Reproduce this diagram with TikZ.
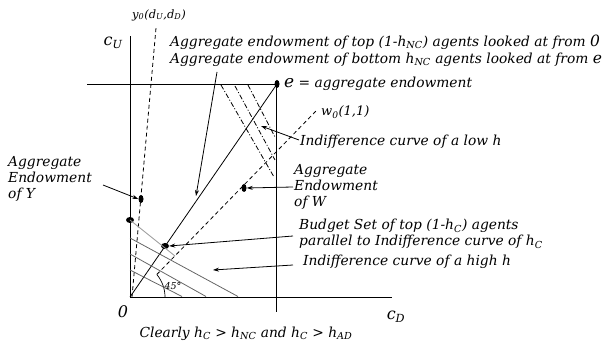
\documentclass[tikz,border=0pt]{standalone}
\usepackage{fontspec}
\setmainfont{DejaVu Serif}
\usetikzlibrary{arrows.meta,shapes.geometric}
\newcommand{\sbs}[1]{\textsubscript{#1}}
\tikzset{
  axis/.style={line width=0.9pt},
  thin line/.style={line width=0.8pt},
  dashline/.style={line width=0.8pt,dash pattern=on 4pt off 3pt},
  dashdotline/.style={line width=0.8pt,dash pattern=on 5pt off 2pt on 1pt off 2pt},
  grayline/.style={line width=0.8pt,draw=black!60},
  lgrayline/.style={line width=0.8pt,draw=black!40},
  arr/.style={line width=0.8pt,-{Stealth[length=6pt,width=4pt]}},
  dot/.style={ellipse,fill=black,inner sep=0pt,minimum width=5pt,minimum height=8pt},
  lbl/.style={font=\fontsize{13.8}{16}\selectfont\itshape,inner sep=0pt,anchor=west},
  mlbl/.style={font=\fontsize{13.8}{16}\selectfont\itshape,inner sep=0pt,anchor=west,align=left},
}
\begin{document}
\begin{tikzpicture}[x=1pt,y=-1pt]
\useasboundingbox (0,0) rectangle (608,347);
% coordinates
\coordinate (O) at (130,297);
\coordinate (AxUtop) at (130,36);
\coordinate (AxDend) at (392,297);
\coordinate (TopL) at (87,84.5);
\coordinate (TopR) at (276,84.5);
\coordinate (RBot) at (276,312);
\coordinate (Ytop) at (156,28);
\coordinate (Ybot) at (132,297);
\coordinate (Wbot) at (156.8,274.5);
\coordinate (Wtop) at (316,111);
% axes / box
\draw[axis] (O) -- (AxUtop);
\draw[axis] (O) -- (AxDend);
\draw[axis] (TopL) -- (TopR);
\draw[axis] (TopR) -- (RBot);
% dots
\node[dot] (e) at (277,84) {};
\node[dot] (Ydot) at (141,199) {};
\node[dot] (Wdot) at (244,188) {};
\node[dot,minimum width=8pt,minimum height=6pt] (Bdot) at (165,246) {};
\node[dot,minimum width=8pt,minimum height=6pt] (Udot) at (130,220) {};
% diagonal
\draw[thin line] (O) -- (e.center);
% dashed rays
\draw[dashline] (Ybot) -- (Ytop);
\draw[dashline] (Wbot) -- (Wtop);
% 45 deg arc
\draw[line width=0.7pt] (165,297) arc[start angle=0,end angle=-40,radius=35];
% gray lines
\draw[lgrayline] (Udot.center) -- (175,256);
\draw[grayline] (130,238) -- (238,296.5);
\draw[grayline] (130,254) -- (206,296.5);
\draw[grayline] (130,270) -- (182,296.5);
% dash-dot indifference curves
\draw[dashdotline] (221,85) -- (274,177);
\draw[dashdotline] (235,86) -- (275,160);
\draw[dashdotline] (248,85) -- (275,137);
% labels
\node[font=\fontsize{11.5}{12}\selectfont\itshape,inner sep=0pt] (ylab) at (159,15) {y\sbs{0}(d\sbs{U},d\sbs{D})};
\node[font=\fontsize{16}{17}\selectfont\itshape,inner sep=0pt] (cU) at (113,43) {c\sbs{U}};
\node[font=\fontsize{16}{17}\selectfont\itshape,inner sep=0pt] (cD) at (396,317) {c\sbs{D}};
\node[font=\fontsize{16}{17}\selectfont\itshape,inner sep=0pt] (zero) at (123,312) {0};
\node[lbl] (top1) at (170,42) {Aggregate endowment of top (1-h\sbs{NC}) agents looked at from {\fontsize{15.5}{16}\selectfont 0}};
\node[lbl] (top2) at (170,60) {Aggregate endowment of bottom h\sbs{NC} agents looked at from {\fontsize{15.5}{16}\selectfont e}};
\node[lbl] (elab) at (284,84) {{\fontsize{17}{18}\selectfont e} = aggregate endowment};
\node[lbl,font=\fontsize{13}{14}\selectfont\itshape] (wlab) at (321,112) {w\sbs{0}(1,1)};
\node[lbl] (lowh) at (300,142) {Indifference curve of a low h};
\node[mlbl] (aggW) at (294,187) {Aggregate\\Endowment\\of W};
\node[mlbl] (aggY) at (8,179) {Aggregate\\Endowment\\of Y};
\node[mlbl] (budget) at (299,234) {Budget Set of top (1-h\sbs{C}) agents\\parallel to Indifference curve of h\sbs{C}};
\node[lbl] (highh) at (303,262) {Indifference curve of a high h};
\node[font=\fontsize{13.8}{16}\selectfont\itshape,inner sep=0pt] (clearly) at (246,334) {Clearly h\sbs{C} > h\sbs{NC} and h\sbs{C} > h\sbs{AD}};
\node[font=\fontsize{9.5}{10}\selectfont\itshape,inner sep=0pt] (deg) at (173,286) {45°};
% arrows
\coordinate (a1s) at (217,72);
\coordinate (a1e) at (196,196);
\draw[arr] (a1s) -- (a1e);
\coordinate (a2s) at (299,140);
\draw[arr] (a2s) -- (261,126);
\coordinate (a3s) at (103,185);
\draw[arr] (a3s) -- (Ydot.west);
\coordinate (a4s) at (293,187);
\draw[arr] (a4s) -- (Wdot.east);
\coordinate (a5s) at (293,236);
\draw[arr] (a5s) -- (Bdot.east);
\coordinate (a6s) at (293,265);
\draw[arr] (a6s) -- (213,270);
\end{tikzpicture}
\end{document}
